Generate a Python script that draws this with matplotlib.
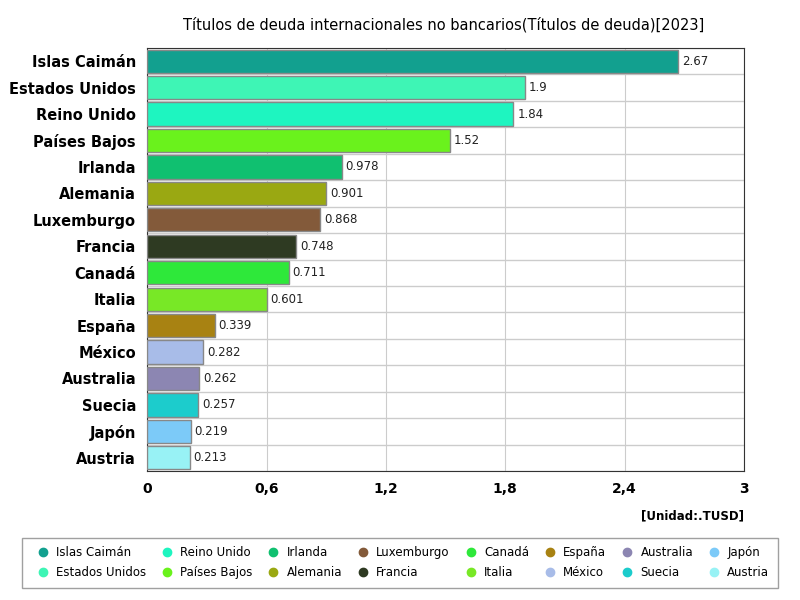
import matplotlib
matplotlib.use("Agg")
import matplotlib.pyplot as plt
from matplotlib.lines import Line2D

countries = ["Islas Caimán","Estados Unidos","Reino Unido","Países Bajos","Irlanda","Alemania","Luxemburgo","Francia","Canadá","Italia","España","México","Australia","Suecia","Japón","Austria"]
values = [2.67,1.9,1.84,1.52,0.978,0.901,0.868,0.748,0.711,0.601,0.339,0.282,0.262,0.257,0.219,0.213]
labels = ["2.67","1.9","1.84","1.52","0.978","0.901","0.868","0.748","0.711","0.601","0.339","0.282","0.262","0.257","0.219","0.213"]
colors = ["#12a08f","#3ef5b5","#1ef5c0","#6af21c","#10c070","#9aa812","#835a3a","#2e3a22","#2ee83a","#78e826","#a88212","#a8bce8","#8c86b2","#1ccccc","#7ccaf8","#98f2f5"]
xticks = [0,0.6,1.2,1.8,2.4,3]
xticklabels = ["0","0,6","1,2","1,8","2,4","3"]

fig = plt.figure(figsize=(8,6), dpi=100)
ax = fig.add_axes([0.184, 0.215, 0.746, 0.705])
y = range(len(countries))
ax.barh(list(y), values, height=0.88, color=colors, edgecolor="#888888", linewidth=1, zorder=3)
for i, (v, l) in enumerate(zip(values, labels)):
    ax.text(v + 0.02, i, l, va="center", ha="left", fontsize=8.5, color="#222", zorder=4)
ax.set_ylim(len(countries)-0.5, -0.5)
ax.set_xlim(0, 3)
ax.set_xticks(xticks)
ax.set_xticklabels(xticklabels, fontsize=10, fontweight="bold")
ax.set_yticks(list(y))
ax.set_yticklabels(countries, fontsize=10.5, fontweight="bold")
ax.tick_params(length=0, pad=8)
ax.grid(axis="x", color="#cccccc", zorder=0)
for i in range(len(countries)+1):
    ax.axhline(i-0.5, color="#cccccc", lw=1, zorder=0)
for s in ax.spines.values():
    s.set_color("#333333")
fig.text(0.555, 0.958, "Títulos de deuda internacionales no bancarios(Títulos de deuda)[2023]", ha="center", va="center", fontsize=10.5)
fig.text(0.93, 0.14, "[Unidad:.TUSD]", ha="right", va="center", fontsize=8.5, fontweight="bold")
handles = [Line2D([0],[0], marker="o", ls="", markersize=6, markerfacecolor=c, markeredgecolor=c) for c in colors]
leg = fig.legend(handles, countries, loc="center", bbox_to_anchor=(0.5, 0.062), ncol=8, fontsize=8.5,
                 frameon=True, fancybox=False, edgecolor="#888888", handletextpad=0.1, columnspacing=0.8,
                 borderpad=0.7, labelspacing=0.6)
fig.savefig("out.png")
